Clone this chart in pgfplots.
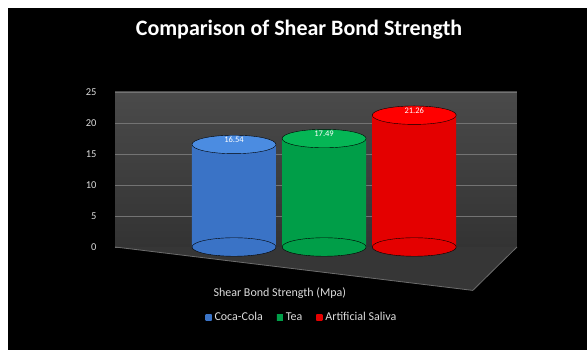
\documentclass[border=0pt]{standalone}
\usepackage{pgfplots}
\pgfplotsset{compat=1.18}
\usepackage{fontspec}
\setmainfont{Carlito}
\definecolor{cbluel}{RGB}{95,160,240}
\definecolor{cblue}{RGB}{75,140,225}
\definecolor{cblued}{RGB}{58,115,198}
\definecolor{cgreenl}{RGB}{25,200,105}
\definecolor{cgreen}{RGB}{5,182,85}
\definecolor{cgreend}{RGB}{0,158,72}
\definecolor{credl}{RGB}{255,25,25}
\definecolor{cred}{RGB}{255,0,0}
\definecolor{credd}{RGB}{228,0,0}
\definecolor{txt}{RGB}{220,220,220}
\begin{document}
\begin{tikzpicture}[x=1pt,y=1pt]
\useasboundingbox (0,0) rectangle (587,350);
\fill[white] (0,0) rectangle (587,350);
\fill[black] (8,0) rectangle (587,342);
\node[text=white, font=\bfseries\fontsize{22}{26}\selectfont] at (299,320) {Comparison of Shear Bond Strength};
\begin{axis}[
  at={(115pt,103pt)}, anchor=south west,
  scale only axis, width=402pt, height=155pt,
  xmin=-1.32, xmax=3.14, ymin=0, ymax=25,
  ytick={0,5,...,25}, xtick=\empty,
  axis line style={draw=none},
  major tick length=0pt,
  ymajorgrids, grid style={draw=gray!90!black, line width=0.8pt},
  axis background/.style={top color=gray!58!black, bottom color=gray!40!black},
  /pgf/number format/assume math mode=true,
  ticklabel style={text=txt, font=\fontsize{10.5}{12}\selectfont},
  yticklabel style={xshift=-15pt},
  clip=false,
  xlabel={Shear Bond Strength (Mpa)},
  xlabel style={at={(axis description cs:0.41,-0.297)}, anchor=center, text=txt, font=\fontsize{12}{14}\selectfont},
  legend columns=3,
  legend style={at={(axis description cs:0.465,-0.452)}, anchor=center, draw=none, fill=none,
    text=txt, font=\fontsize{12}{14}\selectfont,
    /tikz/every even column/.append style={column sep=12pt},
    /tikz/every odd column/.append style={column sep=1pt}},
  legend image code/.code={\fill[#1] (0pt,-3pt) rectangle (6pt,3pt);},
]
% floor (background decoration)
\fill[gray!42!black] (axis description cs:0,0) -- (axis description cs:0.89,-0.28) -- (axis description cs:1,0) -- cycle;
\draw[gray!85!black, line width=0.8pt] (axis description cs:0,0) -- (axis description cs:0.89,-0.28) -- (axis description cs:1,0);
% bottom ellipses
\addplot[forget plot, only marks, mark=*, mark size=42pt, mark options={yscale=0.22, draw=none, fill=cblued}] coordinates {(0,0)};
\addplot[forget plot, only marks, mark=*, mark size=42pt, mark options={yscale=0.22, draw=none, fill=cgreend}] coordinates {(1,0)};
\addplot[forget plot, only marks, mark=*, mark size=42pt, mark options={yscale=0.22, draw=none, fill=credd}] coordinates {(2,0)};
% bars
\addplot[ybar, bar width=84pt, bar shift=0pt, draw=none, left color=cblued, middle color=cbluel, right color=cblued] coordinates {(0,16.54)};
\addlegendentry{Coca-Cola}
\addplot[ybar, bar width=84pt, bar shift=0pt, draw=none, left color=cgreend, middle color=cgreenl, right color=cgreend] coordinates {(1,17.49)};
\addlegendentry{Tea}
\addplot[ybar, bar width=84pt, bar shift=0pt, draw=none, left color=credd, middle color=credl, right color=credd] coordinates {(2,21.26)};
\addlegendentry{Artificial Saliva}
% top ellipses with labels
\addplot[forget plot, only marks, mark=*, mark size=42pt, mark options={yscale=0.22, draw=none, fill=cblue},
  nodes near coords, nodes near coords style={text=white, font=\fontsize{8.5}{10}\selectfont, anchor=center, yshift=5pt},
  /pgf/number format/.cd, fixed, precision=2, fixed zerofill] coordinates {(0,16.54)};
\addplot[forget plot, only marks, mark=*, mark size=42pt, mark options={yscale=0.22, draw=none, fill=cgreen},
  nodes near coords, nodes near coords style={text=white, font=\fontsize{8.5}{10}\selectfont, anchor=center, yshift=5pt},
  /pgf/number format/.cd, fixed, precision=2, fixed zerofill] coordinates {(1,17.49)};
\addplot[forget plot, only marks, mark=*, mark size=42pt, mark options={yscale=0.22, draw=none, fill=cred},
  nodes near coords, nodes near coords style={text=white, font=\fontsize{8.5}{10}\selectfont, anchor=center, yshift=5pt},
  /pgf/number format/.cd, fixed, precision=2, fixed zerofill] coordinates {(2,21.26)};
\end{axis}
\end{tikzpicture}
\end{document}
